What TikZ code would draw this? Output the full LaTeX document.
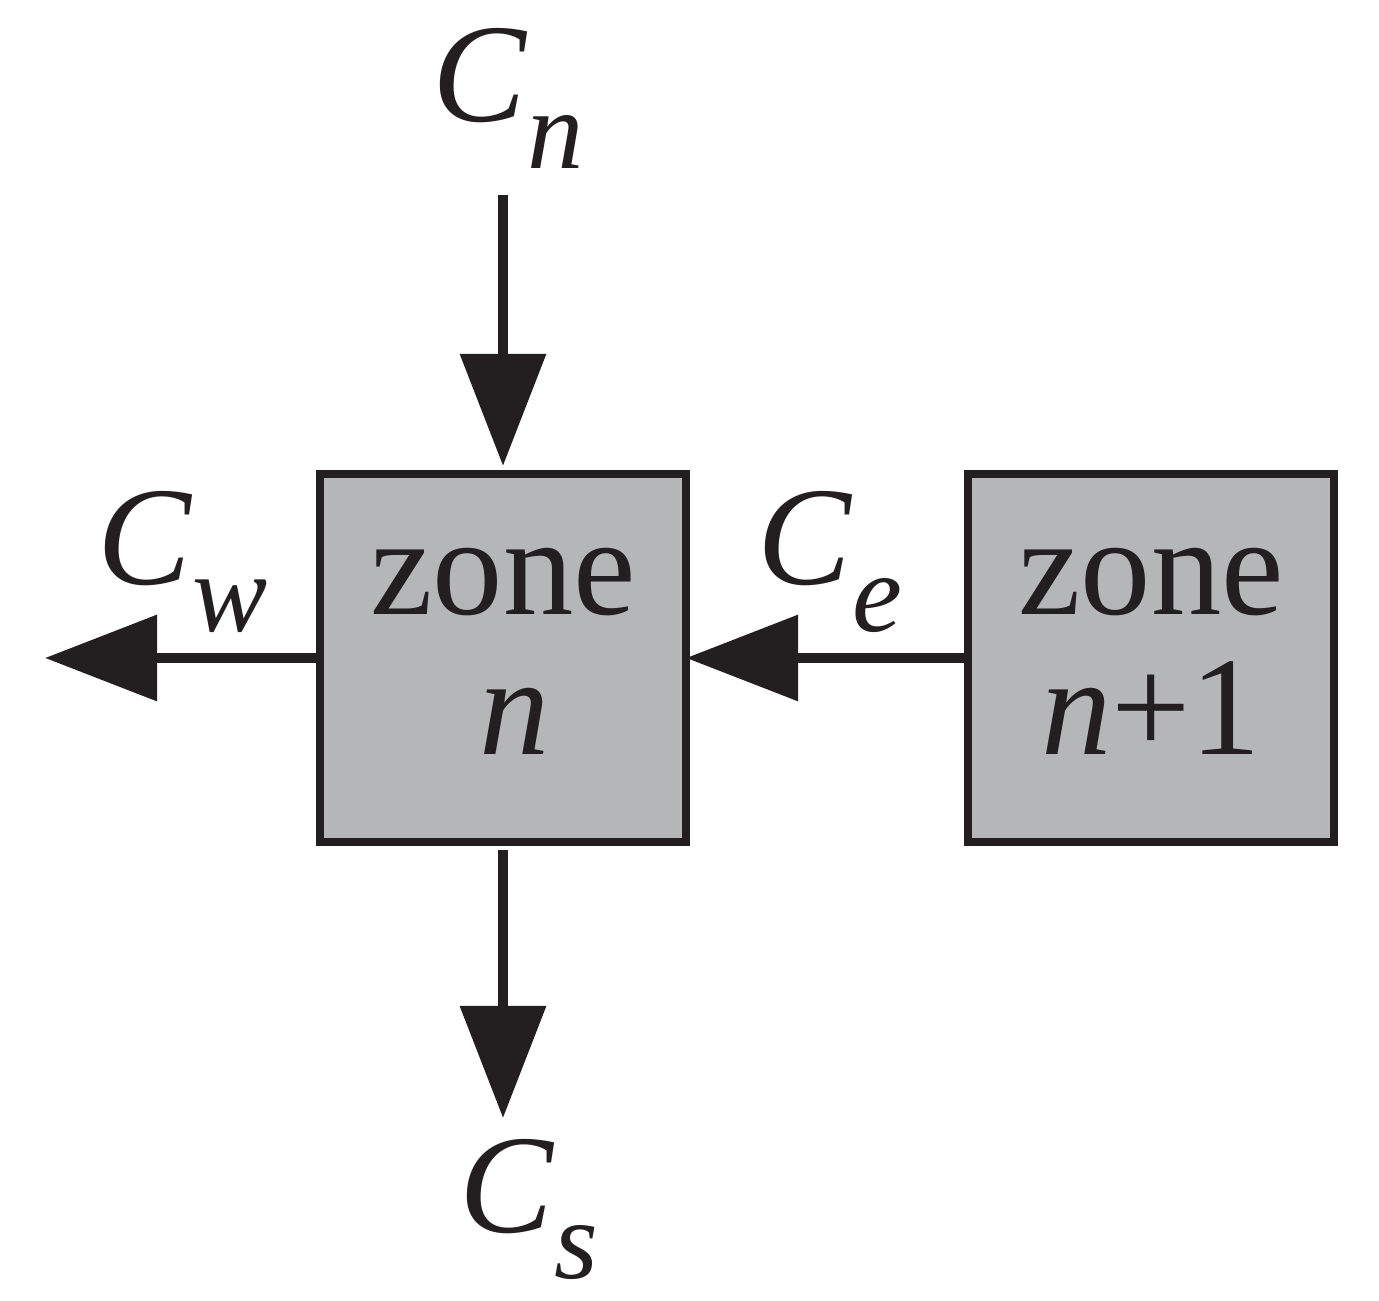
\documentclass[tikz,border=0pt]{standalone}
\usepackage{fontspec}
\setmainfont{Liberation Serif}
\usetikzlibrary{arrows.meta}
\definecolor{zonegray}{HTML}{B5B6B8}
\definecolor{ink}{HTML}{231F20}
\newcommand\flbl[2]{\fontsize{40}{40}\selectfont\textit{#1}\raisebox{-0.33em}{\fontsize{32}{32}\selectfont\textit{#2}}}
\begin{document}
\begin{tikzpicture}[x=0.01cm,y=-0.01cm,
  zone/.style={draw=ink,fill=zonegray,line width=8\pgflinewidth/1,minimum width=3.66cm,minimum height=3.68cm,inner sep=0pt,line width=0.08cm},
  flow/.style={draw=ink,line width=0.1cm,-{Triangle[length=1.12cm,width=0.84cm]}},
  txt/.style={font=\fontsize{40}{40}\selectfont,text=ink,align=center},
  lab/.style={anchor=base west,inner sep=0pt,text=ink}]
\useasboundingbox (0,0) rectangle (1379,1301);
\node[zone] (z1) at (503,658) {};
\node[zone] (z2) at (1151,658) {};
\node[txt,anchor=base] (t1) at (503,615) {zone};
\node[txt,anchor=base] (t1b) at (515,755) {\textit{n}};
\node[txt,anchor=base] (t2) at (1151,615) {zone};
\node[txt,anchor=base] (t2b) at (1151,755) {\textit{n}+1};
\coordinate (top) at (503,195);
\coordinate (bot) at (503,1118);
\coordinate (lft) at (45,658);
\draw[flow] (top) -- ([yshift=0.04cm]z1.north);
\draw[flow] ([yshift=-0.04cm]z1.south) -- (bot);
\draw[flow] ([xshift=0.04cm]z1.west) -- (lft);
\draw[flow] ([xshift=0.04cm]z2.west) -- ([xshift=-0.04cm]z1.east);
\node[lab] (cn) at (432,122) {\flbl{C}{n}};
\node[lab] (cw) at (97,585) {\flbl{C}{w}};
\node[lab] (ce) at (757,585) {\flbl{C}{e}};
\node[lab] (cs) at (459,1232) {\flbl{C}{s}};
\end{tikzpicture}
\end{document}
